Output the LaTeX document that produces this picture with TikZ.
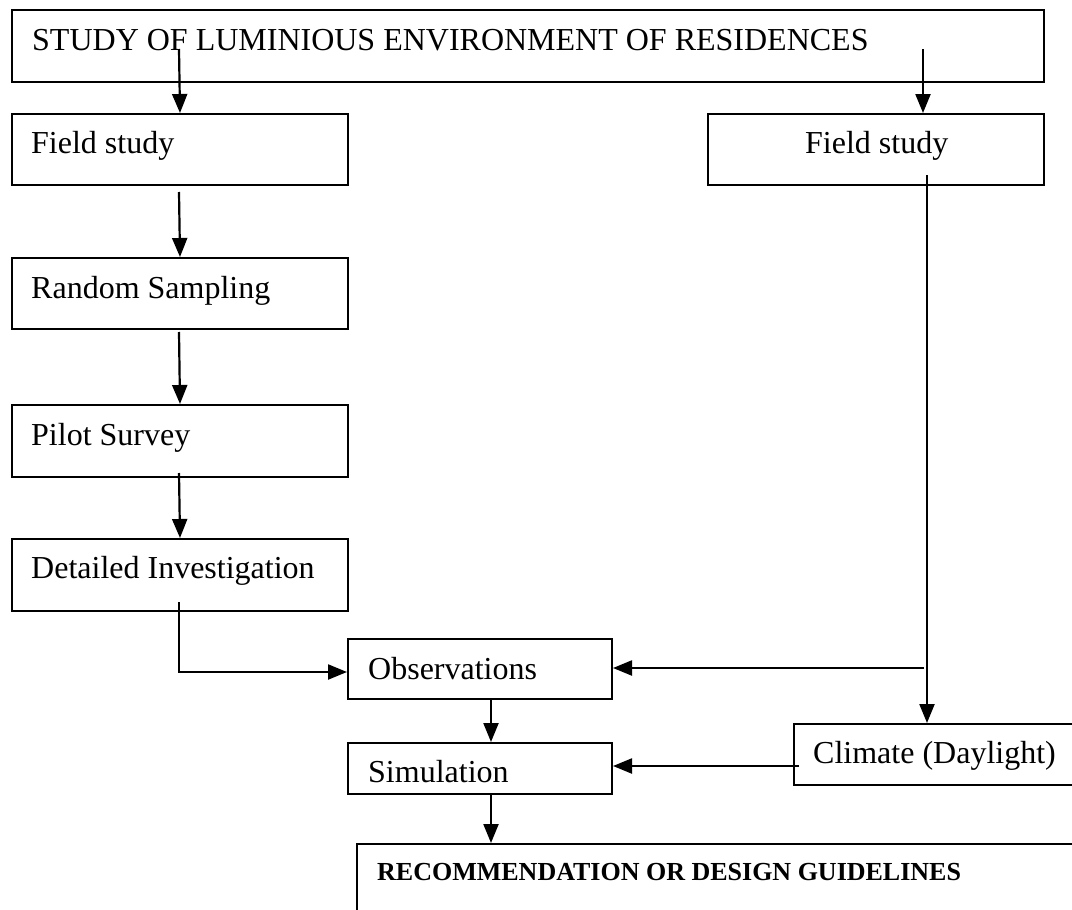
\documentclass[tikz,border=0pt]{standalone}
\usepackage{fontspec}
\setmainfont{Liberation Serif}
\usetikzlibrary{arrows.meta,calc}
\begin{document}
\begin{tikzpicture}[x=1pt,y=-1pt,
  box/.style={draw=black,line width=2pt,rectangle,inner sep=0pt,anchor=north west},
  lbl/.style={anchor=base west,inner sep=0pt,font=\fontsize{32}{37}\selectfont},
  blbl/.style={anchor=base west,inner sep=0pt,font=\fontsize{26}{31}\selectfont\bfseries},
  arr/.style={line width=2.2pt,-{Triangle[length=19pt,width=15pt]}}]
\useasboundingbox (0,0) rectangle (1072,910);
% boxes
\node[box,minimum width=1032pt,minimum height=72pt] (top) at (11,9) {};
\node[box,minimum width=336pt,minimum height=71pt] (fs1) at (11,113) {};
\node[box,minimum width=336pt,minimum height=71pt] (fs2) at (707,113) {};
\node[box,minimum width=336pt,minimum height=71pt] (rs) at (11,257) {};
\node[box,minimum width=336pt,minimum height=72pt] (ps) at (11,404) {};
\node[box,minimum width=336pt,minimum height=72pt] (di) at (11,538) {};
\node[box,minimum width=264pt,minimum height=60pt] (ob) at (347,638) {};
\node[box,minimum width=264pt,minimum height=51pt] (si) at (347,742) {};
\node[box,minimum width=320pt,minimum height=61pt] (cl) at (793,723) {};
\node[box,minimum width=760pt,minimum height=120pt] (re) at (356,843) {};
% texts
\node[lbl] (topt) at (32,50) {STUDY OF LUMINIOUS ENVIRONMENT OF RESIDENCES};
\node[lbl] (fs1t) at (31,153) {Field study};
\node[lbl] (fs2t) at (805,153) {Field study};
\node[lbl] (rst) at (31,298) {Random Sampling};
\node[lbl] (pst) at (31,445) {Pilot Survey};
\node[lbl] (dit) at (31,578) {Detailed Investigation};
\node[lbl] (obt) at (368,679) {Observations};
\node[lbl] (sit) at (368,782) {Simulation};
\node[lbl] (clt) at (813,763) {Climate (Daylight)};
\node[blbl] (ret) at (377,880) {RECOMMENDATION OR DESIGN GUIDELINES};
% connector points
\coordinate (a1) at (179,49);
\coordinate (a2) at (923,49);
\coordinate (b1) at (179,192);
\coordinate (b2) at (179,332);
\coordinate (b3) at (179,473);
\coordinate (c1) at (179,602);
\coordinate (c2) at (179,672);
\coordinate (r1) at (927,175);
\coordinate (r2) at (924,668);
\coordinate (k1) at (799,766);
\coordinate (s1) at (491,698);
% connectors
\draw[arr] (a1) -- (fs1.north);
\draw[arr] (a2) -- (a2 |- fs2.north);
\draw[arr] (b1) -- (rs.north);
\draw[arr] (b2) -- (ps.north);
\draw[arr] (b3) -- (di.north);
\draw[arr] (c1) -- (c2) -- (c2 -| ob.west);
\draw[arr] (r1) -- (r1 |- cl.north);
\draw[arr] (r2) -- (r2 -| ob.east);
\draw[arr] (k1) -- (k1 -| si.east);
\draw[arr] (s1 |- ob.south) -- (s1 |- si.north);
\draw[arr] (s1 |- si.south) -- (s1 |- re.north);
\end{tikzpicture}
\end{document}
